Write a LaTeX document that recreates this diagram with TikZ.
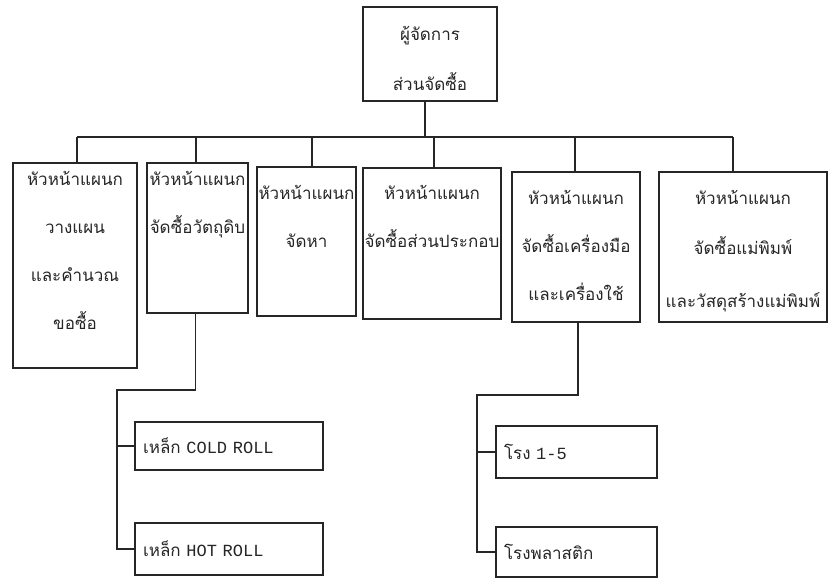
\documentclass[tikz,border=0pt]{standalone}
\usepackage{fontspec}
\newfontfamily\thai[Script=Thai]{Loma}
\newfontfamily\lat{Liberation Mono}
\begin{document}
\begin{tikzpicture}[x=1pt,y=-1pt,
  ln/.style={line width=1.5pt, draw=black!85},
  box/.style={ln, rectangle, inner sep=0pt},
  txt/.style={font=\thai\fontsize{17}{48}\selectfont, align=center, inner sep=0pt, anchor=north, text=black!85},
  sub/.style={box, font=\thai\fontsize{17}{20}\selectfont, align=left, inner xsep=8pt, text=black!85}
]
\useasboundingbox[fill=white] (0,0) rectangle (830,582);

% manager box
\node[box, minimum width=134pt, minimum height=94pt] (top) at (430,54) {};
% section head boxes
\node[box, minimum width=124pt, minimum height=205pt] (b1) at (75,265.5) {};
\node[box, minimum width=101pt, minimum height=150pt] (b2) at (197.5,238) {};
\node[box, minimum width=99pt,  minimum height=149pt] (b3) at (306.5,241.5) {};
\node[box, minimum width=138pt, minimum height=151pt] (b4) at (432,243.5) {};
\node[box, minimum width=128pt, minimum height=150pt] (b5) at (576,247) {};
\node[box, minimum width=168pt, minimum height=150pt] (b6) at (743,247) {};

% box texts
\node[txt] (t0) at ([yshift=-20pt]top.north) {ผู้จัดการ\\[2pt]ส่วนจัดซื้อ};
\node[txt] (t1) at ([yshift=-9pt]b1.north) {หัวหน้าแผนก\\วางแผน\\และคำนวณ\\ขอซื้อ};
\node[txt] (t2) at ([yshift=-9pt]b2.north) {หัวหน้าแผนก\\จัดซื้อวัตถุดิบ};
\node[txt] (t3) at ([yshift=-19pt]b3.north) {หัวหน้าแผนก\\จัดหา};
\node[txt] (t4) at ([yshift=-18pt]b4.north) {หัวหน้าแผนก\\จัดซื้อส่วนประกอบ};
\node[txt] (t5) at ([yshift=-19pt]b5.north) {หัวหน้าแผนก\\จัดซื้อเครื่องมือ\\และเครื่องใช้};
\node[txt] (t6) at ([yshift=-19pt]b6.north) {หัวหน้าแผนก\\[2pt]จัดซื้อแม่พิมพ์\\[5pt]และวัสดุสร้างแม่พิมพ์};

% unit boxes
\node[sub, minimum width=188pt, minimum height=48pt, text width=172pt] (cold) at (229,446) {เหล็ก {\lat COLD ROLL}};
\node[sub, minimum width=188pt, minimum height=52pt, text width=172pt] (hot)  at (229,549) {เหล็ก {\lat HOT ROLL}};
\node[sub, minimum width=161pt, minimum height=52pt, text width=145pt] (r15)  at (576.5,452) {โรง {\lat 1-5}};
\node[sub, minimum width=161pt, minimum height=50pt, text width=145pt] (pla)  at (576.5,552) {โรงพลาสติก};

% main bus
\coordinate (busL) at (77,137);
\coordinate (busR) at (733,137);
\draw[ln] (busL) -- (busR);
\draw[ln] ([xshift=-5pt]top.south) -- ([xshift=-5pt]top.south |- busL);
\foreach \b/\d in {b1/2, b2/-1.5, b3/5.5, b4/2, b5/-1, b6/-10}
  \draw[ln] ([xshift=\d pt]\b.north) -- ([xshift=\d pt]\b.north |- busL);

% raw material units
\coordinate (jL) at (117,390);
\draw[ln] ([xshift=-2pt]b2.south) |- (jL) -- (jL |- hot.west) -- (hot.west);
\draw[ln] (jL |- cold.west) -- (cold.west);

% tools and equipment units
\coordinate (jR) at (477,395);
\draw[ln] ([xshift=2pt]b5.south) |- (jR) -- (jR |- pla.west) -- (pla.west);
\draw[ln] (jR |- r15.west) -- (r15.west);
\end{tikzpicture}
\end{document}
